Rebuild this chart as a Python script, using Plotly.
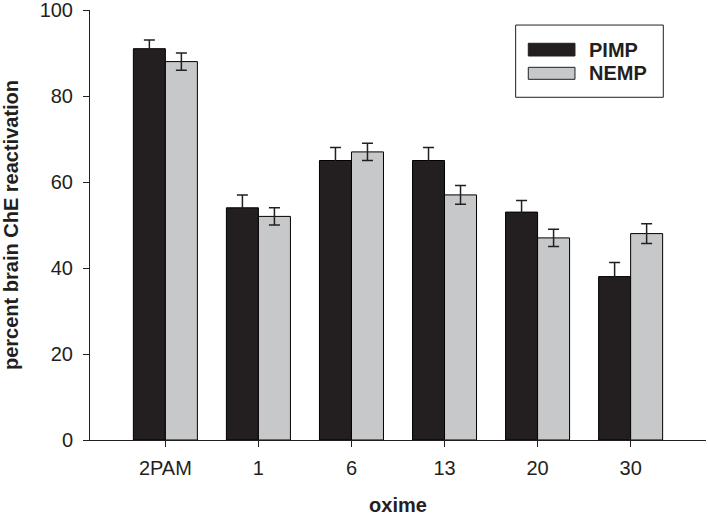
import plotly.graph_objects as go

oximes = ["2PAM", "1", "6", "13", "20", "30"]
pimp = [91, 54, 65, 65, 53, 38]
pimp_err = [2, 3, 3, 3, 2.7, 3.3]
nemp = [88, 52, 67, 57, 47, 48]
nemp_err = [2, 2, 2, 2.2, 2, 2.3]
series_names = ["PIMP", "NEMP"]
series_colors = ["#231f20", "#c6c8ca"]

font_family = "Liberation Sans, Arial, sans-serif"
ink = "#231f20"

fig = go.Figure()
for name, vals, errs, col in zip(series_names, [pimp, nemp], [pimp_err, nemp_err], series_colors):
    fig.add_trace(go.Bar(
        name=name, x=oximes, y=vals,
        marker=dict(color=col, line=dict(color="#000000", width=1)),
        error_y=dict(type="data", array=errs, visible=True, color=ink, thickness=1.5, width=5.5),
        showlegend=False,
    ))

# legend drawn as a box with wide swatches (as in the original)
legend_box = dict(x0=0.691, x1=0.9307, y0=0.797, y1=0.965)
swatch_x = (0.7115, 0.7873)
swatch_y = [(0.893, 0.9226), (0.8388, 0.8667)]
label_y = [0.908, 0.853]
shapes = [dict(type="rect", xref="paper", yref="paper", line=dict(color=ink, width=1),
               fillcolor="white", layer="above", **legend_box)]
annotations = []
for name, col, (sy0, sy1), ly in zip(series_names, series_colors, swatch_y, label_y):
    shapes.append(dict(type="rect", xref="paper", yref="paper", x0=swatch_x[0], x1=swatch_x[1],
                       y0=sy0, y1=sy1, fillcolor=col, line=dict(color=ink, width=1), layer="above"))
    annotations.append(dict(text=name, xref="paper", yref="paper", x=0.8073, y=ly,
                            xanchor="left", yanchor="middle", showarrow=False,
                            font=dict(family=font_family, size=20, color=ink, weight="bold")))

fig.update_layout(
    width=708, height=516, autosize=False,
    margin=dict(l=90, r=2, t=10, b=76, autoexpand=False),
    paper_bgcolor="white", plot_bgcolor="white",
    barmode="group", bargap=0.312, bargroupgap=0,
    font=dict(family=font_family, size=20, color=ink),
    showlegend=False,
    shapes=shapes, annotations=annotations,
    xaxis=dict(
        type="category", range=[-0.81, 5.81],
        showline=True, linecolor=ink, linewidth=1,
        ticks="outside", ticklen=6, tickcolor=ink, tickwidth=1,
        showgrid=False, zeroline=False,
        tickfont=dict(size=20), ticklabelstandoff=4, ticklabeloverflow="allow",
        title=dict(text="oxime", font=dict(size=20, weight="bold"), standoff=22),
    ),
    yaxis=dict(
        range=[0, 100], tickvals=[0, 20, 40, 60, 80, 100],
        showline=True, linecolor=ink, linewidth=1,
        ticks="outside", ticklen=6, tickcolor=ink, tickwidth=1,
        showgrid=False, zeroline=False,
        tickfont=dict(size=20), ticklabelstandoff=6, ticklabeloverflow="allow",
        title=dict(text="percent brain ChE reactivation", font=dict(size=20, weight="bold"), standoff=16),
    ),
)

fig.write_html("out.html", config={"responsive": False, "displayModeBar": False},
               post_script="document.body.style.margin='0';document.body.style.overflow='hidden';")
